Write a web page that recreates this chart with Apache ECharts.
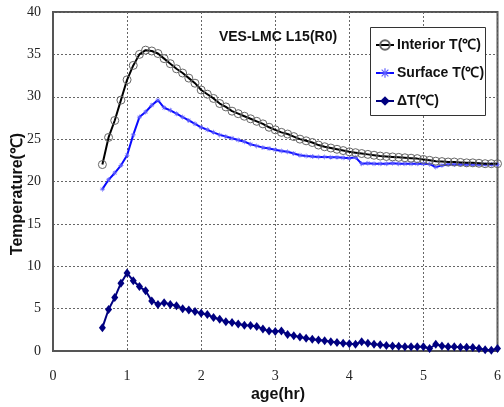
<!DOCTYPE html>
<html>
<head>
<meta charset="utf-8">
<script src="https://cdn.jsdelivr.net/npm/echarts@6/dist/echarts.min.js"></script>
<style>
  html, body { margin: 0; padding: 0; background: #fff; }
  #chart { width: 504px; height: 407px; }
</style>
</head>
<body>
<div id="chart"></div>
<script>
// Sampling times, minutes after placing (every 5 min)
const ageMinutes = [
  40, 45, 50, 55, 60, 65, 70, 75, 80, 85, 90, 95, 100, 105, 110, 115, 120,
  125, 130, 135, 140, 145, 150, 155, 160, 165, 170, 175, 180, 185, 190, 195, 200,
  205, 210, 215, 220, 225, 230, 235, 240, 245, 250, 255, 260, 265, 270, 275, 280,
  285, 290, 295, 300, 305, 310, 315, 320, 325, 330, 335, 340, 345, 350, 355, 360
];

// Interior temperature (°C)
const interiorT = [
  22.0, 25.2, 27.2, 29.6, 32.0, 33.7, 35.0, 35.5, 35.4, 35.1, 34.5, 33.9, 33.3, 32.8, 32.2, 31.6, 30.8,
  30.3, 29.8, 29.2, 28.8, 28.3, 28.0, 27.7, 27.4, 27.1, 26.8, 26.4, 26.1, 25.8, 25.6, 25.3, 25.0,
  24.8, 24.6, 24.3, 24.1, 23.95, 23.8, 23.65, 23.5, 23.4, 23.3, 23.2, 23.1, 23.0, 22.95, 22.9, 22.85,
  22.8, 22.75, 22.7, 22.6, 22.5, 22.4, 22.35, 22.3, 22.3, 22.25, 22.2, 22.2, 22.15, 22.1, 22.1, 22.1
];

// Surface temperature (°C)
const surfaceT = [
  19.1, 20.2, 21.0, 21.9, 23.1, 25.5, 27.6, 28.2, 29.0, 29.6, 28.7, 28.4, 28.0, 27.6, 27.2, 26.8, 26.4,
  26.1, 25.8, 25.5, 25.3, 25.1, 24.9, 24.7, 24.4, 24.2, 24.0, 23.9, 23.75, 23.6, 23.5, 23.3, 23.1,
  23.0, 22.95, 22.9, 22.9, 22.85, 22.85, 22.8, 22.75, 22.85, 22.1, 22.15, 22.1, 22.1, 22.1, 22.15, 22.1,
  22.1, 22.1, 22.1, 22.1, 22.05, 21.7, 21.9, 22.0, 22.0, 22.0, 22.0, 22.0, 22.0, 22.0, 22.0, 22.0
];

// Interior minus surface (°C)
const deltaT = [
  2.75, 4.9, 6.3, 8.0, 9.2, 8.3, 7.6, 7.1, 5.9, 5.5, 5.7, 5.5, 5.35, 5.0, 4.85, 4.65, 4.45,
  4.3, 3.95, 3.75, 3.45, 3.35, 3.2, 3.05, 3.0, 2.9, 2.6, 2.35, 2.3, 2.35, 1.95, 1.8, 1.65,
  1.5, 1.4, 1.3, 1.2, 1.1, 1.0, 0.9, 0.85, 0.8, 1.1, 0.9, 0.8, 0.75, 0.65, 0.6, 0.55,
  0.5, 0.5, 0.5, 0.5, 0.3, 0.8, 0.6, 0.5, 0.5, 0.45, 0.45, 0.4, 0.3, 0.15, 0.1, 0.3
];

const seriesNames = ['Interior T(℃)', 'Surface T(℃)', '\u0394T(℃)'];
const titleText = 'VES-LMC L15(R0)';
const xAxisTitle = 'age(hr)';
const yAxisTitle = 'Temperature(℃)';

const ageHours = ageMinutes.map(m => m / 60);
const pairs = vals => ageHours.map((h, i) => [h, vals[i]]);

const boldSans = '"Liberation Sans", Arial, sans-serif';
const serifFont = '"Liberation Serif", "DejaVu Serif", serif';

// asterisk marker built from thin bars
const asterisk = 'path://M-0.6,-5L0.6,-5L0.6,5L-0.6,5Z M-5,-0.6L5,-0.6L5,0.6L-5,0.6Z ' +
  'M-3.9,-3.1L-3.1,-3.9L3.9,3.1L3.1,3.9Z M3.1,-3.9L3.9,-3.1L-3.1,3.9L-3.9,3.1Z';

const chart = echarts.init(document.getElementById('chart'), null, { renderer: 'canvas' });

chart.setOption({
  animation: false,
  backgroundColor: '#fff',
  grid: {
    left: 53, right: 3, top: 12, bottom: 56,
    show: true, borderColor: '#555', borderWidth: 2, backgroundColor: 'transparent'
  },
  xAxis: {
    type: 'value', min: 0, max: 6, interval: 1,
    axisLine: { show: true, onZero: false, lineStyle: { color: '#555', width: 2 } },
    axisTick: { show: false },
    axisLabel: { color: '#222', fontFamily: serifFont, fontSize: 14, margin: 18 },
    splitLine: { show: true, lineStyle: { color: '#666', type: [2, 2], width: 1 } }
  },
  yAxis: {
    type: 'value', min: 0, max: 40, interval: 5,
    axisLine: { show: true, lineStyle: { color: '#555', width: 2 } },
    axisTick: { show: false },
    axisLabel: { color: '#222', fontFamily: serifFont, fontSize: 14, margin: 12 },
    splitLine: { show: true, lineStyle: { color: '#666', type: [2, 2], width: 1 } }
  },
  legend: {
    orient: 'vertical',
    left: 375, top: 38,
    padding: 0,
    itemWidth: 18, itemHeight: 12, itemGap: 14,
    textStyle: { color: '#111', fontFamily: boldSans, fontWeight: 'bold', fontSize: 14, padding: [0, 0, 0, -2] },
    data: seriesNames,
    z: 5
  },
  graphic: [
    {
      type: 'rect', z: 3,
      shape: { x: 370.5, y: 27.5, width: 115, height: 88 },
      style: { fill: '#fff', stroke: '#333', lineWidth: 1 }
    },
    {
      type: 'text', z: 5, x: 278, y: 37,
      style: {
        text: titleText, align: 'center', verticalAlign: 'middle',
        font: 'bold 14px ' + boldSans, fill: '#111'
      }
    },
    {
      type: 'text', z: 5, x: 278, y: 395,
      style: {
        text: xAxisTitle, align: 'center', verticalAlign: 'middle',
        font: 'bold 16px ' + boldSans, fill: '#111'
      }
    },
    {
      type: 'text', z: 5, x: 18, y: 194, rotation: Math.PI / 2,
      style: {
        text: yAxisTitle, align: 'center', verticalAlign: 'middle',
        font: 'bold 16px ' + boldSans, fill: '#111'
      }
    }
  ],
  series: [
    {
      name: seriesNames[0], type: 'line', data: pairs(interiorT),
      symbol: 'circle', symbolSize: 8,
      lineStyle: { color: '#000', width: 2 },
      itemStyle: { color: 'rgba(255,255,255,0)', borderColor: '#666', borderWidth: 1 },
      z: 3
    },
    {
      name: seriesNames[1], type: 'line', data: pairs(surfaceT),
      symbol: asterisk, symbolSize: 5,
      lineStyle: { color: '#0a0aff', width: 2 },
      itemStyle: { color: '#5a5aff' },
      z: 2
    },
    {
      name: seriesNames[2], type: 'line', data: pairs(deltaT),
      symbol: 'diamond', symbolSize: [7, 9],
      lineStyle: { color: '#000080', width: 2 },
      itemStyle: { color: '#000080' },
      z: 2
    }
  ]
});
</script>
</body>
</html>
